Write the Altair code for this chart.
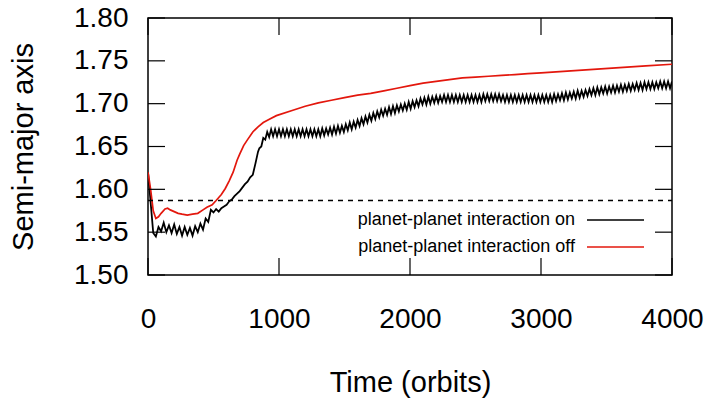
import altair as alt
import pandas as pd

# ---- data ----
black_t = list(range(0, 850, 20)) + list(range(850, 4001, 15))
black_a = [
    # t = 0 .. 840 (step 20)
    1.620, 1.585, 1.549, 1.545, 1.556, 1.551, 1.561, 1.550, 1.558, 1.549,
    1.559, 1.548, 1.556, 1.546, 1.556, 1.547, 1.555, 1.546, 1.557, 1.550,
    1.560, 1.553, 1.566, 1.562, 1.576, 1.573, 1.577, 1.574, 1.578, 1.580,
    1.582, 1.586, 1.588, 1.592, 1.595, 1.598, 1.602, 1.606, 1.609, 1.614,
    1.617, 1.630, 1.644,
    # t = 850 .. 4000 (step 15)
    1.648, 1.650, 1.660, 1.658, 1.667, 1.661, 1.670, 1.662, 1.670, 1.662,
    1.670, 1.662, 1.670, 1.662, 1.670, 1.662, 1.670, 1.662, 1.670, 1.662,
    1.670, 1.662, 1.670, 1.662, 1.670, 1.662, 1.670, 1.662, 1.670, 1.662,
    1.670, 1.662, 1.671, 1.663, 1.671, 1.664, 1.672, 1.664, 1.673, 1.665,
    1.674, 1.666, 1.674, 1.667, 1.676, 1.669, 1.678, 1.670, 1.679, 1.672,
    1.681, 1.674, 1.683, 1.676, 1.685, 1.678, 1.687, 1.680, 1.689, 1.682,
    1.691, 1.684, 1.693, 1.686, 1.694, 1.687, 1.696, 1.688, 1.697, 1.689,
    1.698, 1.691, 1.699, 1.692, 1.700, 1.693, 1.702, 1.694, 1.703, 1.696,
    1.704, 1.697, 1.706, 1.699, 1.707, 1.699, 1.708, 1.700, 1.708, 1.701,
    1.709, 1.701, 1.709, 1.702, 1.710, 1.702, 1.710, 1.702, 1.710, 1.702,
    1.710, 1.702, 1.710, 1.702, 1.710, 1.702, 1.710, 1.702, 1.710, 1.702,
    1.710, 1.702, 1.710, 1.702, 1.711, 1.703, 1.711, 1.703, 1.711, 1.703,
    1.711, 1.703, 1.711, 1.703, 1.710, 1.702, 1.710, 1.702, 1.710, 1.702,
    1.710, 1.702, 1.710, 1.702, 1.710, 1.702, 1.710, 1.702, 1.710, 1.702,
    1.710, 1.702, 1.710, 1.702, 1.710, 1.702, 1.710, 1.702, 1.710, 1.702,
    1.711, 1.703, 1.711, 1.704, 1.712, 1.704, 1.713, 1.705, 1.713, 1.706,
    1.714, 1.706, 1.715, 1.707, 1.715, 1.708, 1.716, 1.709, 1.717, 1.710,
    1.718, 1.710, 1.719, 1.711, 1.719, 1.712, 1.720, 1.712, 1.720, 1.713,
    1.721, 1.713, 1.721, 1.714, 1.722, 1.714, 1.722, 1.715, 1.723, 1.715,
    1.723, 1.716, 1.724, 1.716, 1.724, 1.716, 1.725, 1.717, 1.725, 1.717,
    1.725, 1.717, 1.725, 1.718, 1.726, 1.718, 1.726, 1.718, 1.726, 1.718,
    1.726,
]

red_t = [0, 20, 40, 60, 80, 100, 130, 150, 170, 200, 230, 260, 300, 340, 380,
         420, 450, 490, 520, 560, 590, 620, 650, 680, 700, 730, 760, 800, 840,
         880, 930, 980, 1100, 1200, 1300, 1400, 1500, 1600, 1700, 1800, 1900,
         2000, 2100, 2200, 2300, 2400, 2500, 2600, 2700, 2800, 2900, 3000,
         3200, 3400, 3600, 3800, 4000]
red_a = [1.620, 1.600, 1.575, 1.566, 1.568, 1.572, 1.577, 1.578, 1.576, 1.574,
         1.572, 1.571, 1.570, 1.571, 1.572, 1.576, 1.579, 1.582, 1.587, 1.594,
         1.601, 1.610, 1.620, 1.634, 1.641, 1.651, 1.658, 1.667, 1.673, 1.678,
         1.682, 1.686, 1.692, 1.697, 1.701, 1.704, 1.707, 1.710, 1.712, 1.715,
         1.718, 1.721, 1.724, 1.726, 1.728, 1.730, 1.731, 1.732, 1.733, 1.734,
         1.735, 1.736, 1.738, 1.740, 1.742, 1.744, 1.746]

dashed_level = 1.587
x_ticks = [0, 1000, 2000, 3000, 4000]
y_ticks = [1.50, 1.55, 1.60, 1.65, 1.70, 1.75, 1.80]
legend_labels = ["planet-planet interaction on", "planet-planet interaction off"]
legend_colors = ["#000000", "#e3170d"]

W, H = 524, 257
FONT = "Liberation Sans"

black_df = pd.DataFrame({"t": black_t, "a": black_a})
red_df = pd.DataFrame({"t": red_t, "a": red_a})

xscale = alt.Scale(domain=[0, 4000], nice=False, zero=False)
yscale = alt.Scale(domain=[1.5, 1.8], nice=False, zero=False)

x_axis = alt.Axis(values=x_ticks, format="d", title="Time (orbits)", grid=False,
                  ticks=False, domain=False, labelFlush=False, labelPadding=30,
                  labelFontSize=28, titleFontSize=29, titleX=W / 2, titleY=107,
                  titleBaseline="middle", titleAlign="center")
y_axis = alt.Axis(values=y_ticks, format=".2f", title="Semi-major axis", grid=False,
                  ticks=False, domain=False, labelPadding=20, labelOverlap=False,
                  labelFlush=False,
                  labelFontSize=28, titleFontSize=29, titleX=-125, titleY=H / 2,
                  titleAngle=270, titleBaseline="middle", titleAlign="center")

black_line = alt.Chart(black_df).mark_line(color="black", strokeWidth=1.8, clip=True).encode(
    x=alt.X("t:Q", scale=xscale, axis=x_axis),
    y=alt.Y("a:Q", scale=yscale, axis=y_axis),
)
red_line = alt.Chart(red_df).mark_line(color=legend_colors[1], strokeWidth=1.7, clip=True).encode(
    x=alt.X("t:Q", scale=xscale),
    y=alt.Y("a:Q", scale=yscale),
)
dash_df = pd.DataFrame({"t": [x_ticks[0], x_ticks[-1]], "a": [dashed_level, dashed_level]})
dashed = alt.Chart(dash_df).mark_line(color="black", strokeWidth=1.5, strokeDash=[5, 5]).encode(
    x=alt.X("t:Q", scale=xscale),
    y=alt.Y("a:Q", scale=yscale),
)

# inward ticks (gnuplot style), mirrored on all sides
yt_df = pd.DataFrame({"a": y_ticks})
xt_df = pd.DataFrame({"t": x_ticks})
TL = 17
left_ticks = alt.Chart(yt_df).mark_rule(color="black", strokeWidth=1.2).encode(
    y=alt.Y("a:Q", scale=yscale), x=alt.value(0), x2=alt.value(TL))
right_ticks = alt.Chart(yt_df).mark_rule(color="black", strokeWidth=1.2).encode(
    y=alt.Y("a:Q", scale=yscale), x=alt.value(W - TL), x2=alt.value(W))
bottom_ticks = alt.Chart(xt_df).mark_rule(color="black", strokeWidth=1.2).encode(
    x=alt.X("t:Q", scale=xscale), y=alt.value(H - TL), y2=alt.value(H))
top_ticks = alt.Chart(xt_df).mark_rule(color="black", strokeWidth=1.2).encode(
    x=alt.X("t:Q", scale=xscale), y=alt.value(0), y2=alt.value(TL))

# legend
leg_y = [202, 229]
leg_layers = []
for lab, col, yy in zip(legend_labels, legend_colors, leg_y):
    leg_layers.append(
        alt.Chart(pd.DataFrame({"label": [lab]})).mark_text(
            align="right", baseline="middle", font=FONT, fontSize=18, color="black"
        ).encode(text="label:N", x=alt.value(427), y=alt.value(yy))
    )
    leg_layers.append(
        alt.Chart(pd.DataFrame({"label": [lab]})).mark_rule(color=col, strokeWidth=1.7).encode(
            x=alt.value(439), x2=alt.value(496), y=alt.value(yy))
    )

chart = alt.layer(
    black_line, red_line, dashed, left_ticks, right_ticks, bottom_ticks, top_ticks,
    *leg_layers
).properties(
    width=W, height=H,
    autosize=alt.AutoSizeParams(type="none"),
    padding={"left": 148, "top": 18, "right": 39, "bottom": 123},
    background="white",
).configure_view(
    stroke="black", strokeWidth=1.5
).configure_axis(
    labelFont=FONT, titleFont=FONT, labelColor="black", titleColor="black",
    titleFontWeight="normal"
)

chart.save("out.html", embed_options={"renderer": "svg", "actions": False})
